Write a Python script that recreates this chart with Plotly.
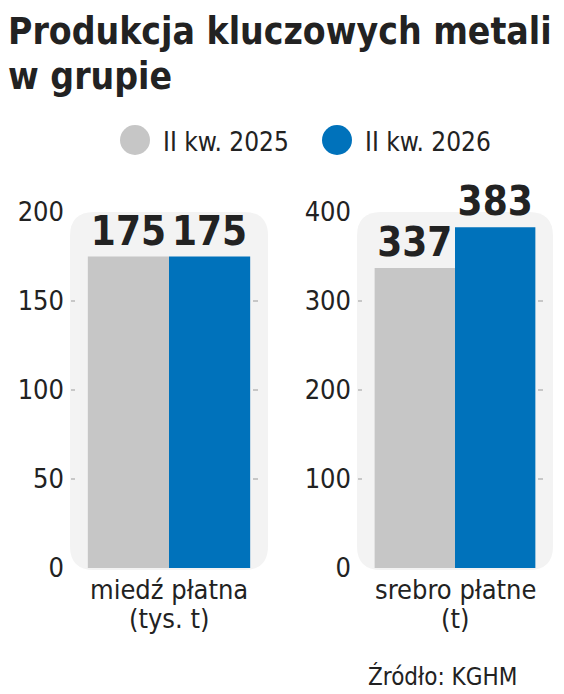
import plotly.graph_objects as go

# Dane z wykresu
kategorie = ["miedź płatna", "srebro płatne"]
jednostki = ["(tys. t)", "(t)"]
serie = ["II kw. 2025", "II kw. 2026"]
wartosci_2025 = [175, 337]
wartosci_2026 = [175, 383]
zakresy_y = [200, 400]
kroki_y = [50, 100]
zrodlo = "Źródło: KGHM"
tytul = ["Produkcja kluczowych metali", "w grupie"]

kolory = ["#c6c6c6", "#0072bb"]
tlo_panelu = "#f3f3f3"
kolor_tekstu = "#222222"
czcionka = "DejaVu Sans Condensed, DejaVu Sans, sans-serif"

W, H = 564, 694


def px(x):
    return x / W


def py(y):
    return 1 - y / H


# pozycje paneli w pikselach
domeny_x = [(70, 268), (357, 553)]
y_gora, y_dol = 212, 568

fig = go.Figure()

wartosci = [wartosci_2025, wartosci_2026]
for i in range(2):
    osx = "x" if i == 0 else "x2"
    osy = "y" if i == 0 else "y2"
    for s in range(2):
        fig.add_trace(go.Bar(
            x=[kategorie[i]], y=[wartosci[s][i]],
            name=serie[s], xaxis=osx, yaxis=osy,
            marker=dict(color=kolory[s], line=dict(width=0)),
            texttemplate="%{y}", textposition="outside",
            textfont=dict(family=czcionka, size=40, color=kolor_tekstu, weight="bold"),
            constraintext="none", cliponaxis=False, showlegend=False,
        ))

shapes = []
annotations = []


def zaokraglony(x0, y0, x1, y1, r):
    return (f"M {px(x0 + r)},{py(y0)} L {px(x1 - r)},{py(y0)} "
            f"Q {px(x1)},{py(y0)} {px(x1)},{py(y0 + r)} "
            f"L {px(x1)},{py(y1 - r)} Q {px(x1)},{py(y1)} {px(x1 - r)},{py(y1)} "
            f"L {px(x0 + r)},{py(y1)} Q {px(x0)},{py(y1)} {px(x0)},{py(y1 - r)} "
            f"L {px(x0)},{py(y0 + r)} Q {px(x0)},{py(y0)} {px(x0 + r)},{py(y0)} Z")


for i, (a, b) in enumerate(domeny_x):
    shapes.append(dict(type="path", xref="paper", yref="paper", layer="below",
                       path=zaokraglony(a, y_gora, b, y_dol + 2, 24),
                       fillcolor=tlo_panelu, line=dict(width=0)))
    osy = "y" if i == 0 else "y2"
    for v in range(kroki_y[i], zakresy_y[i], kroki_y[i]):
        for xa, xb in [(a + 1, a + 5), (b - 15, b - 10)]:
            shapes.append(dict(type="line", xref="paper", yref=osy,
                               x0=px(xa), x1=px(xb), y0=v, y1=v,
                               line=dict(color="#b8b8b8", width=1.5)))
    osx = "x" if i == 0 else "x2"
    annotations.append(dict(x=kategorie[i], y=py(589), xref=osx, yref="paper",
                            text=kategorie[i], showarrow=False, yanchor="middle",
                            font=dict(family=czcionka, size=27, color=kolor_tekstu)))
    annotations.append(dict(x=kategorie[i], y=py(618), xref=osx, yref="paper",
                            text=jednostki[i], showarrow=False, yanchor="middle",
                            font=dict(family=czcionka, size=27, color=kolor_tekstu)))

# legenda rysowana recznie (kolka)
legenda_x = [135, 337]
for s in range(2):
    cx, cy, r = legenda_x[s], 140, 15
    shapes.append(dict(type="circle", xref="paper", yref="paper",
                       x0=px(cx - r), x1=px(cx + r), y0=py(cy + r), y1=py(cy - r),
                       fillcolor=kolory[s], line=dict(width=0)))
    annotations.append(dict(x=px(cx + 26), y=py(cy + 2), xref="paper", yref="paper",
                            text=serie[s], showarrow=False, xanchor="left", yanchor="middle",
                            font=dict(family=czcionka, size=26, color=kolor_tekstu)))

# tytul
for n, linia in enumerate(tytul):
    annotations.append(dict(x=px(6), y=py(31 + n * 45), xref="paper", yref="paper",
                            text=f"<b>{linia}</b>", showarrow=False,
                            xanchor="left", yanchor="middle",
                            font=dict(family=czcionka, size=37, color=kolor_tekstu)))

annotations.append(dict(x=px(519), y=py(676), xref="paper", yref="paper",
                        text=zrodlo, showarrow=False, xanchor="right", yanchor="middle",
                        font=dict(family=czcionka, size=24, color=kolor_tekstu)))

os_y = dict(showgrid=False, zeroline=False, showline=False, ticks="", automargin=False,
            tickfont=dict(family=czcionka, size=27, color=kolor_tekstu),
            ticklabelstandoff=5, domain=[py(y_dol), py(y_gora)])
os_x = dict(showgrid=False, zeroline=False, showline=False, ticks="", automargin=False,
            showticklabels=False)

fig.update_layout(
    width=W, height=H, margin=dict(l=0, r=0, t=0, b=0),
    paper_bgcolor="white", plot_bgcolor="rgba(0,0,0,0)",
    barmode="group", bargap=0.18, bargroupgap=0,
    xaxis=dict(os_x, domain=[px(domeny_x[0][0]), px(domeny_x[0][1])], anchor="y"),
    xaxis2=dict(os_x, domain=[px(domeny_x[1][0]), px(domeny_x[1][1])], anchor="y2"),
    yaxis=dict(os_y, range=[0, zakresy_y[0]], tickvals=list(range(0, zakresy_y[0] + 1, kroki_y[0])), anchor="x"),
    yaxis2=dict(os_y, range=[0, zakresy_y[1]], tickvals=list(range(0, zakresy_y[1] + 1, kroki_y[1])), anchor="x2"),
    shapes=shapes, annotations=annotations, showlegend=False,
)

# bez marginesu strony, aby wykres zajal cale okno
fig.write_html("out.html", post_script="document.body.style.margin='0';",
               config={"displayModeBar": False})
